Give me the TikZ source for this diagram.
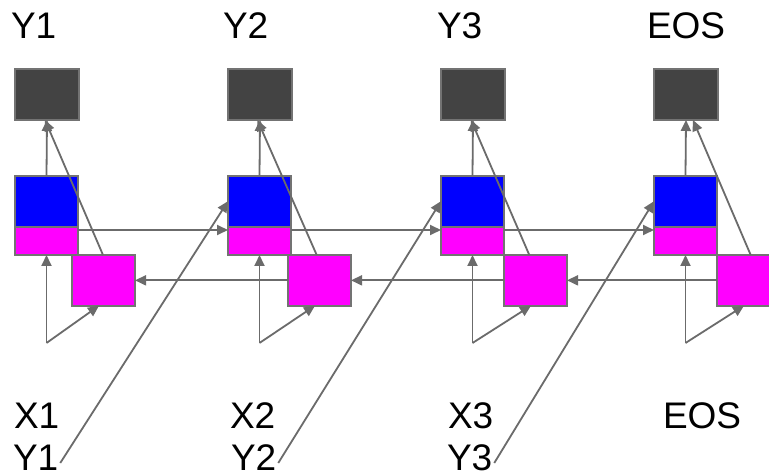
\documentclass[tikz,border=0pt]{standalone}
\usepackage{fontspec}
\setmainfont{Liberation Sans}
\usetikzlibrary{arrows.meta,calc}
\definecolor{wire}{HTML}{6B6B6B}
\definecolor{edge}{HTML}{737373}
\definecolor{outbox}{HTML}{434343}
\definecolor{cellblue}{HTML}{0000FF}
\definecolor{cellpink}{HTML}{FF00FF}
\begin{document}
\begin{tikzpicture}[x=1pt,y=-1pt,
  box/.style={draw=edge,line width=2pt,inner sep=0pt,outer sep=0pt},
  outcell/.style={box,fill=outbox,minimum width=64pt,minimum height=51pt},
  hidtop/.style={box,fill=cellblue,minimum width=63pt,minimum height=51pt},
  hidbot/.style={box,fill=cellpink,minimum width=63pt,minimum height=28.3pt},
  backcell/.style={box,fill=cellpink,minimum width=63pt,minimum height=50.7pt},
  lbl/.style={inner sep=0pt,outer sep=0pt,anchor=base west,font=\fontsize{37}{44}\selectfont},
  link/.style={draw=wire,line width=1.8pt,-{Triangle[length=11pt,width=10pt]}},
]
\useasboundingbox (0,0) rectangle (769,473);
\fill[white] (0,0) rectangle (769,473);
\clip (0,0) rectangle (769,473);

% cells of the four time steps
\foreach \i/\xo/\so in {1/15/72, 2/228/288, 3/441/504, 4/654/717}{
  \node[outcell]  (out\i)  at (\xo+32,94.5) {};
  \node[hidtop]   (fwd\i)  at (\xo+31.5,201.2) {};
  \node[hidbot]   (mem\i)  at (\xo+31.5,240.85) {};
  \node[backcell] (bwd\i)  at (\so+31.5,280.35) {};
  \coordinate (root\i) at ($(mem\i.south)+(0,88)$);
}

% labels
\node[lbl] (top1) at (11,39) {Y1};
\node[lbl] (top2) at (223,39) {Y2};
\node[lbl] (top3) at (437,39) {Y3};
\node[lbl] (top4) at (647,39) {EOS};
\node[lbl] (inx1) at (14,428) {X1};
\node[lbl] (inx2) at (230,428) {X2};
\node[lbl] (inx3) at (448,428) {X3};
\node[lbl] (inx4) at (663,428) {EOS};
\node[lbl] (iny1) at (13,470) {Y1};
\node[lbl] (iny2) at (231,470) {Y2};
\node[lbl] (iny3) at (447,470) {Y3};

% inputs into each step
\foreach \i in {1,2,3,4}{
  \draw[link] (root\i) -- (mem\i.south);
  \draw[link] (root\i) -- ([xshift=-4.5pt]bwd\i.south);
  \draw[link] (fwd\i.north) -- (out\i.south);
}

% backward cell to output
\draw[link] ([xshift=-0.5pt]bwd1.north) -- ([xshift=-2pt]out1.south);
\draw[link] ([xshift=-2.8pt]bwd2.north) -- ([xshift=-2.6pt]out2.south);
\draw[link] ([xshift=-6.2pt]bwd3.north) -- ([xshift=-2pt]out3.south);
\draw[link] ([xshift=2.2pt]bwd4.north) -- ([xshift=7pt]out4.south);

% forward recurrence
\foreach \i/\j in {1/2, 2/3, 3/4}{
  \draw[link] ([yshift=-3.3pt]mem\i.north east) -- ([yshift=-3.3pt]mem\j.north west);
}

% backward recurrence
\foreach \i/\j in {2/1, 3/2, 4/3}{
  \draw[link] (bwd\i.west) -- (bwd\j.east);
}

% previous target fed to the next step
\draw[link] ([xshift=2pt,yshift=7pt]iny1.base east) -- (fwd2.west);
\draw[link] ([xshift=2pt,yshift=7pt]iny2.base east) -- (fwd3.west);
\draw[link] ([xshift=2pt,yshift=7pt]iny3.base east) -- (fwd4.west);
\end{tikzpicture}
\end{document}
